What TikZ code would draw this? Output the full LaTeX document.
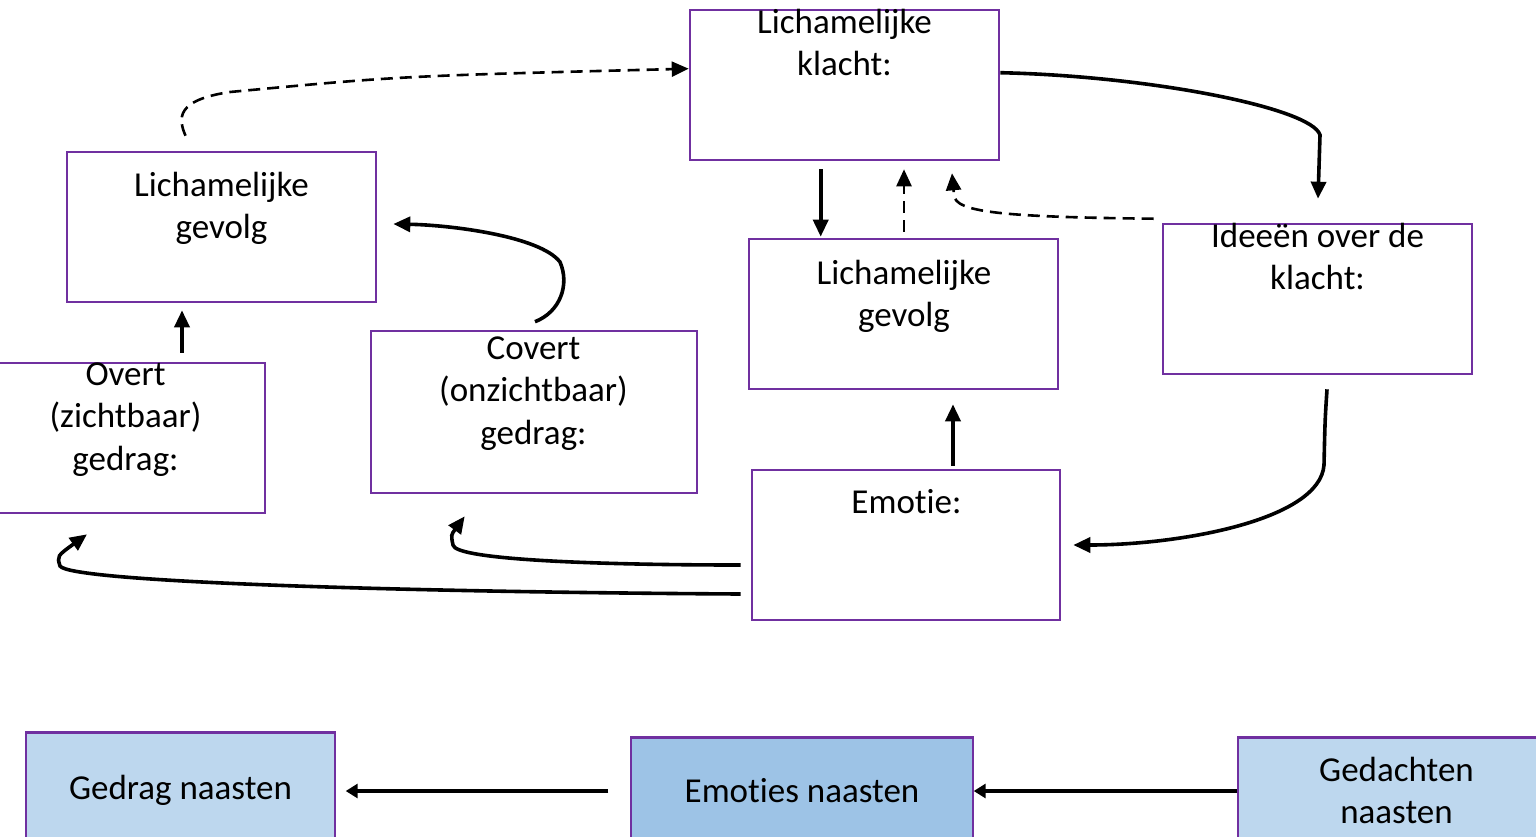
\documentclass[tikz,border=0pt]{standalone}
\usepackage{fontspec}
\setmainfont{Carlito}[Ligatures={NoCommon,NoRare}]
\usetikzlibrary{arrows.meta,calc}
\definecolor{purp}{RGB}{112,48,160}
\definecolor{lblue}{RGB}{189,215,238}
\definecolor{mblue}{RGB}{157,195,230}
\newcommand\mlines[1]{\begin{tabular}[t]{@{}c@{}}#1\end{tabular}}
\begin{document}
\begin{tikzpicture}[x=0.5pt,y=-0.5pt,
  box/.style={draw=purp,line width=1.3pt,inner sep=0pt,minimum width=154.5pt,minimum height=75pt},
  nbox/.style={draw=purp,line width=0.7pt,inner sep=0pt,minimum width=154.5pt,minimum height=75pt,fill=lblue},
  txt/.style={inner sep=0pt,anchor=base,font=\fontsize{17.5pt}{21.25pt}\selectfont},
  arr/.style={line width=1.8pt,-{Triangle[length=8.5pt,width=7.5pt]}},
  darr/.style={line width=1.3pt,dash pattern=on 6pt off 3.5pt,-{Triangle[length=8.5pt,width=7.5pt]}},
  barr/.style={line width=2pt,-{Triangle[length=6pt,width=7pt]}}]
\useasboundingbox (0,0) rectangle (1536,836);
% boxes
\node[box] (A) at (844.5,85) {};
\node[box] (B) at (221.5,227) {};
\node[box,minimum width=139.5pt] (C) at (125.5,438) {};
\node[box,minimum width=163pt,minimum height=81pt] (D) at (534,412) {};
\node[box] (E) at (903.5,314) {};
\node[box] (F) at (1317.5,299) {};
\node[box,minimum width=154pt] (G) at (906,545) {};
\node[nbox] (H) at (180.5,808) {};
\node[nbox,fill=mblue,minimum width=171pt] (I) at (802,813) {};
\node[nbox,minimum width=159pt] (J) at (1397,813) {};
\draw[purp,line width=1.4pt] (H.north west) -- (H.north east);
\draw[purp,line width=1.4pt] (I.north west) -- (I.north east);
\draw[purp,line width=1.4pt] (J.north west) -- (J.north east);
% texts
\node[txt] (At) at (844.5,33) {\mlines{Lichamelijke\\klacht:}};
\node[txt] (Bt) at (221.5,196) {\mlines{Lichamelijke\\gevolg}};
\node[txt] (Ct) at (125.5,385) {\mlines{Overt\\(zichtbaar)\\gedrag:}};
\node[txt] (Dt) at (533.5,359) {\mlines{Covert\\(onzichtbaar)\\gedrag:}};
\node[txt] (Et) at (904,284) {\mlines{Lichamelijke\\gevolg}};
\node[txt] (Ft) at (1317.5,247) {\mlines{Ideeën over de\\klacht:}};
\node[txt] (Gt) at (906.5,513) {Emotie:};
\node[txt] (Ht) at (180.5,799) {Gedrag naasten};
\node[txt] (It) at (802,802) {Emoties naasten};
\node[txt] (Jt) at (1396.5,781) {\mlines{Gedachten\\naasten}};
% connectors
\draw[darr] ($(B.north)+(-36,-15)$) .. controls (178,118) and (176,100) .. (230,92)
  .. controls (400,76) .. ($(A.north west)+(0,60)$);
\draw[arr] ($(A.north east)+(0,64)$) .. controls (1150,76) and (1312,108) .. (1320,135)
  -- ($(F.north)+(0.5,-24)$);
\draw[arr] ($(A.south west)+(132,8)$) -- ($(E.north west)+(73,-1)$);
\draw[darr] ($(E.north)+(0.5,-6)$) -- ($(A.south)+(59.5,8)$);
\draw[darr] ($(F.north west)+(-8,-4)$) .. controls (1000,217) and (955,212) .. (954,195)
  -- ($(A.south)+(107.5,12)$);
\draw[arr] ($(F.south)+(9.5,14)$) .. controls (1325,420) .. (1324,465)
  .. controls (1320,520) and (1180,545) .. ($(G.east)+(12,0)$);
\draw[arr] ($(G.north)+(47,-3)$) -- ($(E.south)+(49.5,14)$);
\draw[arr] ($(G.west)+(-10,20)$) .. controls (600,565) and (455,560) .. (453,545)
  .. controls (451,535) .. ($(D.south west)+(95,22)$);
\draw[arr] ($(G.west)+(-10,49)$) .. controls (400,592) and (70,582) .. (60,566)
  .. controls (57,556) .. ($(C.south)+(-38.5,20)$);
\draw[arr] ($(D.north)+(1,-8)$) .. controls (560,312) and (570,285) .. (560,262)
  .. controls (540,236) and (450,225) .. ($(B.east)+(16,-3)$);
\draw[arr] ($(C.north)+(56.5,-9)$) -- ($(B.south)+(-39.5,7)$);
\draw[barr] ($(I.west)+(-22,-22)$) -- ($(H.east)+(10,-17)$);
\draw[barr] ($(J.west)+(0,-22)$) -- ($(I.east)+(0,-22)$);
\end{tikzpicture}
\end{document}
